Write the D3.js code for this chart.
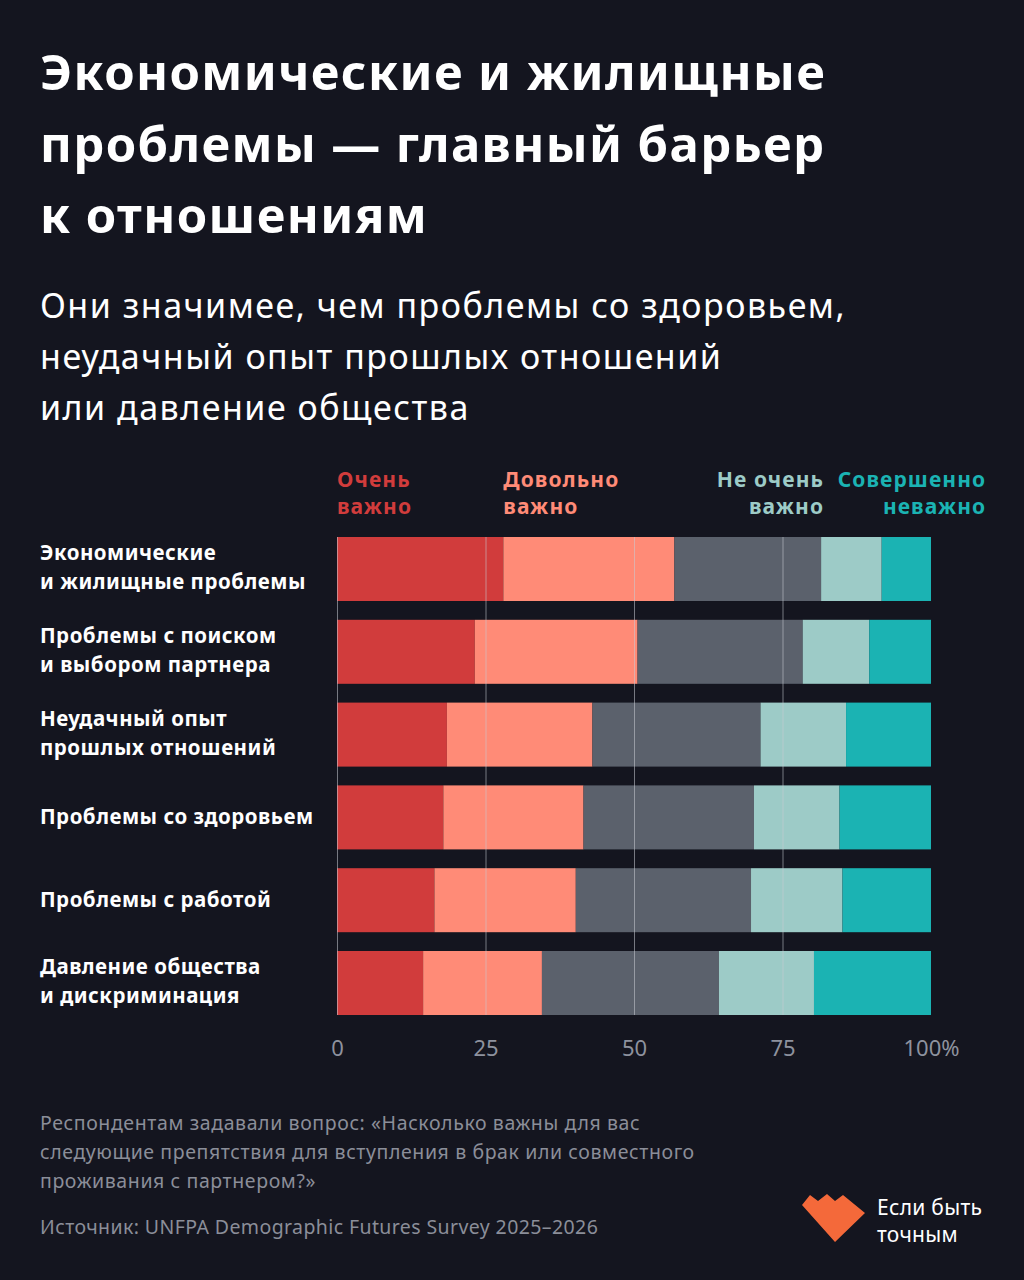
<!DOCTYPE html>
<html>
<head>
<meta charset="utf-8">
<script src="https://cdn.jsdelivr.net/npm/d3@7"></script>
<style>
  html, body { margin: 0; padding: 0; background: #14151f; }
  svg { display: block; }
  text { font-family: "Noto Sans", "DejaVu Sans", sans-serif; }
</style>
</head>
<body>
<div id="chart"></div>
<script>
// Категории (строки сверху вниз)
const categories = [
  ["Экономические", "и жилищные проблемы"],
  ["Проблемы с поиском", "и выбором партнера"],
  ["Неудачный опыт", "прошлых отношений"],
  ["Проблемы со здоровьем"],
  ["Проблемы с работой"],
  ["Давление общества", "и дискриминация"]
];

// Доли ответов, %
const veryImportant   = [28.0, 23.2, 18.5, 17.9, 16.4, 14.5];
const ratherImportant = [28.8, 27.4, 24.5, 23.6, 23.8, 20.0];
const neutral         = [24.7, 27.8, 28.3, 28.7, 29.5, 29.8];
const notVery         = [10.2, 11.2, 14.4, 14.4, 15.4, 16.0];
const notAtAll        = [ 8.3, 10.4, 14.3, 15.4, 14.9, 19.7];

const seriesKeys = ["veryImportant", "ratherImportant", "neutral", "notVery", "notAtAll"];
const seriesColors = ["#d13c3c", "#ff8b77", "#5b616c", "#9dcbc7", "#1bb3b3"];

const legendLabels = [
  { lines: ["Очень", "важно"], color: "#d13c3c", at: 0, anchor: "start" },
  { lines: ["Довольно", "важно"], color: "#ff8b77", at: 28.0, anchor: "start" },
  { lines: ["Не очень", "важно"], color: "#9dcbc7", at: 82.0, anchor: "end" },
  { lines: ["Совершенно", "неважно"], color: "#1bb3b3", at: 109.3, anchor: "end" }
];

const tickValues = [0, 25, 50, 75, 100];
const gridValues = [0, 25, 50, 75];

const titleLines = ["Экономические и жилищные", "проблемы — главный барьер", "к отношениям"];
const subtitleLines = ["Они значимее, чем проблемы со здоровьем,", "неудачный опыт прошлых отношений", "или давление общества"];
const noteLines = [
  "Респондентам задавали вопрос: «Насколько важны для вас",
  "следующие препятствия для вступления в брак или совместного",
  "проживания с партнером?»"
];
const sourceLine = "Источник: UNFPA Demographic Futures Survey 2025–2026";

// Размеры
const W = 1024, H = 1280;

const svg = d3.select("#chart").append("svg")
    .attr("width", W)
    .attr("height", H);

svg.append("rect").attr("width", W).attr("height", H).attr("fill", "#14151f");

// Заголовок
svg.append("g")
    .selectAll("text")
    .data(titleLines)
    .join("text")
    .attr("x", 40)
    .attr("y", (d, i) => 90 + i * 71.5)
    .attr("fill", "#ffffff")
    .style("font-size", "49px")
    .style("font-weight", 700)
    .style("letter-spacing", "1.4px")
    .text(d => d);

// Подзаголовок
svg.append("g")
    .selectAll("text")
    .data(subtitleLines)
    .join("text")
    .attr("x", 40)
    .attr("y", (d, i) => 318 + i * 51)
    .attr("fill", "#ffffff")
    .style("font-size", "34px")
    .style("letter-spacing", "1.5px")
    .text(d => d);

// Шкалы
const x = d3.scaleLinear().domain([0, 100]).range([337, 931]);
const y = d3.scaleBand()
    .domain(d3.range(categories.length))
    .range([537, 1015])
    .paddingInner(0.227);

// Таблица для стека
const table = categories.map((c, i) => ({
  veryImportant: veryImportant[i],
  ratherImportant: ratherImportant[i],
  neutral: neutral[i],
  notVery: notVery[i],
  notAtAll: notAtAll[i]
}));

const stacked = d3.stack().keys(seriesKeys)(table);

// Полосы
svg.append("g")
    .selectAll("g")
    .data(stacked)
    .join("g")
    .attr("fill", (d, i) => seriesColors[i])
    .selectAll("rect")
    .data(d => d)
    .join("rect")
    .attr("x", d => x(d[0]))
    .attr("y", (d, i) => y(i))
    .attr("width", d => x(d[1]) - x(d[0]))
    .attr("height", y.bandwidth());

// Сетка поверх полос
svg.append("g")
    .selectAll("line")
    .data(gridValues)
    .join("line")
    .attr("x1", d => x(d) + 0.5)
    .attr("x2", d => x(d) + 0.5)
    .attr("y1", y.range()[0])
    .attr("y2", y.range()[1])
    .attr("stroke", "#c9ccd4")
    .attr("stroke-opacity", 0.55)
    .attr("stroke-width", 1);

// Подписи категорий
const catG = svg.append("g")
    .selectAll("text")
    .data(categories)
    .join("text")
    .attr("x", 40)
    .attr("fill", "#ffffff")
    .style("font-size", "20.5px")
    .style("font-weight", 700)
    .style("letter-spacing", "0.5px");

catG.each(function(lines, i) {
  const cy = y(i) + y.bandwidth() / 2;
  const t = d3.select(this);
  const offsets = lines.length === 1 ? [7] : [-9, 20];
  lines.forEach((l, k) => {
    t.append("tspan")
        .attr("x", 40)
        .attr("y", cy + offsets[k])
        .text(l);
  });
});

// Легенда
svg.append("g")
    .selectAll("text")
    .data(legendLabels)
    .join("text")
    .attr("text-anchor", d => d.anchor)
    .attr("fill", d => d.color)
    .style("font-size", "21px")
    .style("font-weight", 700)
    .style("letter-spacing", "1.1px")
    .each(function(d) {
      const t = d3.select(this);
      d.lines.forEach((l, k) => {
        t.append("tspan")
            .attr("x", x(d.at))
            .attr("y", 487 + k * 27)
            .text(l);
      });
    });

// Ось X
const axis = svg.append("g")
    .attr("transform", `translate(0, ${1030})`)
    .call(d3.axisBottom(x)
      .tickValues(tickValues)
      .tickSize(0)
      .tickPadding(0)
      .tickFormat(d => d === 100 ? "100%" : d));

axis.select(".domain").remove();
axis.selectAll("text")
    .attr("dy", null)
    .attr("y", 26)
    .attr("fill", "#8e929e")
    .style("font-family", "'Noto Sans', sans-serif")
    .style("font-size", "22px");

// Примечание
svg.append("g")
    .selectAll("text")
    .data(noteLines)
    .join("text")
    .attr("x", 40)
    .attr("y", (d, i) => 1130 + i * 29)
    .attr("fill", "#8b8e99")
    .style("font-size", "19.5px")
    .style("letter-spacing", "0.6px")
    .text(d => d);

svg.append("text")
    .attr("x", 40)
    .attr("y", 1234)
    .attr("fill", "#8b8e99")
    .style("font-size", "19.5px")
    .style("letter-spacing", "0.4px")
    .text(sourceLine);

// Логотип
const logo = svg.append("g");
logo.append("path")
    .attr("d", "M802,1205 L810,1195 L818,1201 L827,1194 L835,1201 L843,1195 L865,1213 L835,1242 Z")
    .attr("fill", "#f4693a");

logo.selectAll("text")
    .data(["Если быть", "точным"])
    .join("text")
    .attr("x", 877)
    .attr("y", (d, i) => 1215 + i * 27)
    .attr("fill", "#ffffff")
    .style("font-size", "21px")
    .style("letter-spacing", "0.3px")
    .text(d => d);
</script>
</body>
</html>
